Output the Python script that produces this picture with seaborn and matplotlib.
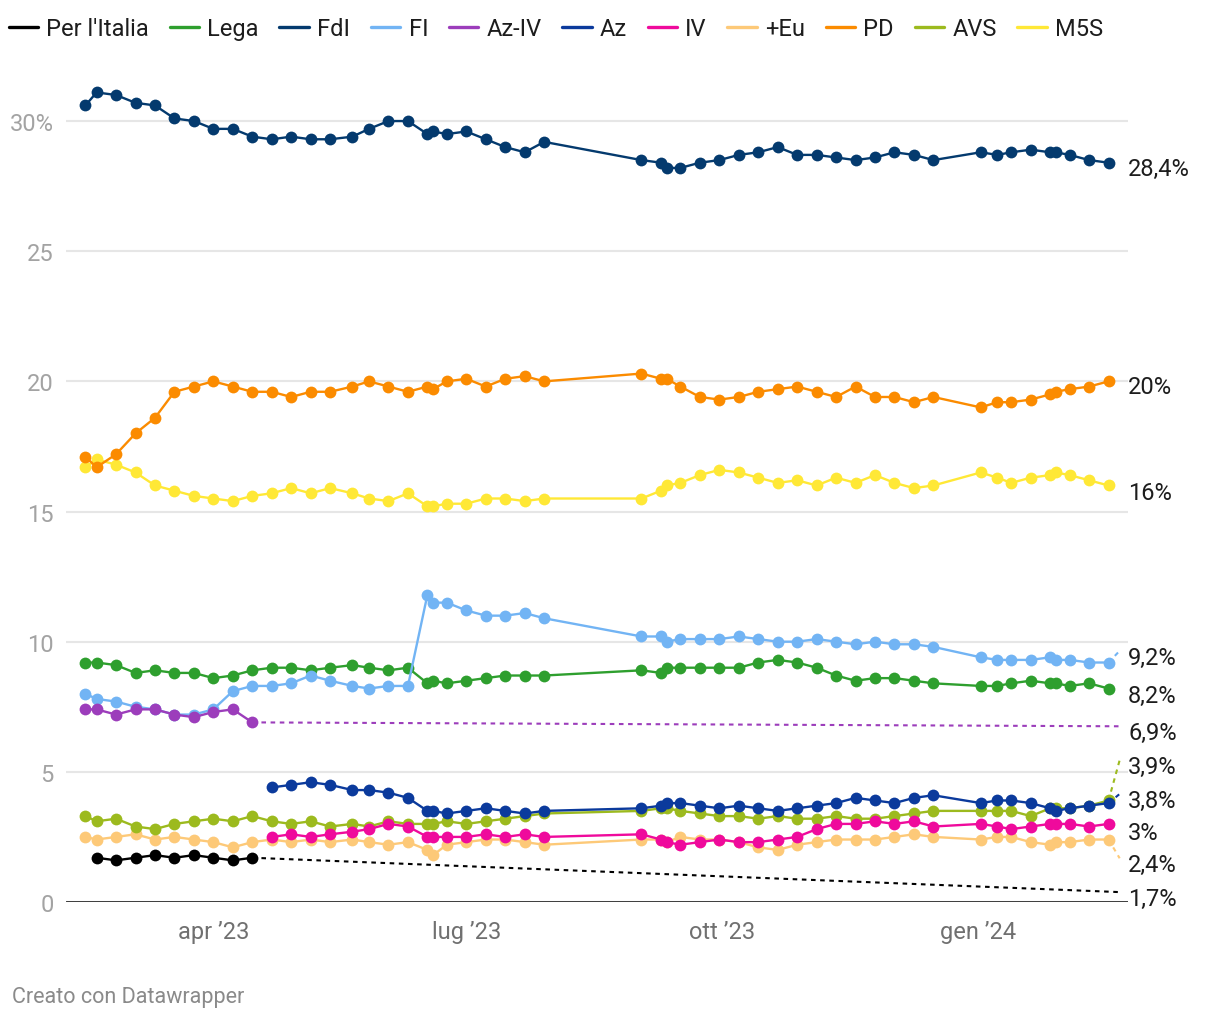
import numpy as np
import pandas as pd
import matplotlib
matplotlib.use('Agg')
import matplotlib.pyplot as plt
from matplotlib.lines import Line2D
import seaborn as sns

nan = np.nan

# --- data: weekly polls, Feb 2023 - Feb 2024 ---
poll_dates = pd.to_datetime([
    '2023-02-14', '2023-02-18', '2023-02-25', '2023-03-04', '2023-03-11', '2023-03-18', '2023-03-25',
    '2023-04-01', '2023-04-08', '2023-04-15', '2023-04-22', '2023-04-29', '2023-05-06', '2023-05-13',
    '2023-05-21', '2023-05-27', '2023-06-03', '2023-06-10', '2023-06-17', '2023-06-19', '2023-06-24',
    '2023-07-01', '2023-07-08', '2023-07-15', '2023-07-22', '2023-07-29',
    '2023-09-02', '2023-09-09', '2023-09-11', '2023-09-16', '2023-09-23', '2023-09-30', '2023-10-07',
    '2023-10-14', '2023-10-21', '2023-10-28', '2023-11-04', '2023-11-11', '2023-11-18', '2023-11-25',
    '2023-12-02', '2023-12-09', '2023-12-16', '2024-01-02', '2024-01-08', '2024-01-13', '2024-01-20',
    '2024-01-27', '2024-01-29', '2024-02-03', '2024-02-10', '2024-02-17'])

per_italia = [nan, 1.7, 1.6, 1.7, 1.8, 1.7, 1.8, 1.7, 1.6, 1.7] + [nan] * 42
lega = [9.2, 9.2, 9.1, 8.8, 8.9, 8.8, 8.8, 8.6, 8.7, 8.9, 9.0, 9.0, 8.9, 9.0, 9.1, 9.0, 8.9, 9.0,
        8.4, 8.5, 8.4, 8.5, 8.6, 8.7, 8.7, 8.7,
        8.9, 8.8, 9.0, 9.0, 9.0, 9.0, 9.0, 9.2, 9.3, 9.2, 9.0, 8.7, 8.5, 8.6, 8.6, 8.5, 8.4,
        8.3, 8.3, 8.4, 8.5, 8.4, 8.4, 8.3, 8.4, 8.2]
fdi = [30.6, 31.1, 31.0, 30.7, 30.6, 30.1, 30.0, 29.7, 29.7, 29.4, 29.3, 29.4, 29.3, 29.3, 29.4,
       29.7, 30.0, 30.0, 29.5, 29.6, 29.5, 29.6, 29.3, 29.0, 28.8, 29.2,
       28.5, 28.4, 28.2, 28.2, 28.4, 28.5, 28.7, 28.8, 29.0, 28.7, 28.7, 28.6, 28.5, 28.6, 28.8,
       28.7, 28.5, 28.8, 28.7, 28.8, 28.9, 28.8, 28.8, 28.7, 28.5, 28.4]
fi = [8.0, 7.8, 7.7, 7.5, 7.4, 7.2, 7.2, 7.4, 8.1, 8.3, 8.3, 8.4, 8.7, 8.5, 8.3, 8.2, 8.3, 8.3,
      11.8, 11.5, 11.5, 11.2, 11.0, 11.0, 11.1, 10.9,
      10.2, 10.2, 10.0, 10.1, 10.1, 10.1, 10.2, 10.1, 10.0, 10.0, 10.1, 10.0, 9.9, 10.0, 9.9,
      9.9, 9.8, 9.4, 9.3, 9.3, 9.3, 9.4, 9.3, 9.3, 9.2, 9.2]
az_iv = [7.4, 7.4, 7.2, 7.4, 7.4, 7.2, 7.1, 7.3, 7.4, 6.9] + [nan] * 42
az = [nan] * 10 + [4.4, 4.5, 4.6, 4.5, 4.3, 4.3, 4.2, 4.0, 3.5, 3.5, 3.4, 3.5, 3.6, 3.5, 3.4, 3.5,
                   3.6, 3.7, 3.8, 3.8, 3.7, 3.6, 3.7, 3.6, 3.5, 3.6, 3.7, 3.8, 4.0, 3.9, 3.8,
                   4.0, 4.1, 3.8, 3.9, 3.9, 3.8, 3.6, 3.5, 3.6, 3.7, 3.8]
iv = [nan] * 10 + [2.5, 2.6, 2.5, 2.6, 2.7, 2.8, 3.0, 2.9, 2.5, 2.5, 2.5, 2.5, 2.6, 2.5, 2.6, 2.5,
                   2.6, 2.4, 2.3, 2.2, 2.3, 2.4, 2.3, 2.3, 2.4, 2.5, 2.8, 3.0, 3.0, 3.1, 3.0,
                   3.1, 2.9, 3.0, 2.9, 2.8, 2.9, 3.0, 3.0, 3.0, 2.9, 3.0]
piu_eu = [2.5, 2.4, 2.5, 2.6, 2.4, 2.5, 2.4, 2.3, 2.1, 2.3, 2.4, 2.3, 2.4, 2.3, 2.4, 2.3, 2.2, 2.3,
          2.0, 1.8, 2.2, 2.3, 2.4, 2.4, 2.3, 2.2,
          2.4, 2.4, 2.3, 2.5, 2.4, 2.4, 2.3, 2.1, 2.0, 2.2, 2.3, 2.4, 2.4, 2.4, 2.5,
          2.6, 2.5, 2.4, 2.5, 2.5, 2.3, 2.2, 2.3, 2.3, 2.4, 2.4]
pd_ = [17.1, 16.7, 17.2, 18.0, 18.6, 19.6, 19.8, 20.0, 19.8, 19.6, 19.6, 19.4, 19.6, 19.6, 19.8,
       20.0, 19.8, 19.6, 19.8, 19.7, 20.0, 20.1, 19.8, 20.1, 20.2, 20.0,
       20.3, 20.1, 20.1, 19.8, 19.4, 19.3, 19.4, 19.6, 19.7, 19.8, 19.6, 19.4, 19.8, 19.4, 19.4,
       19.2, 19.4, 19.0, 19.2, 19.2, 19.3, 19.5, 19.6, 19.7, 19.8, 20.0]
avs = [3.3, 3.1, 3.2, 2.9, 2.8, 3.0, 3.1, 3.2, 3.1, 3.3, 3.1, 3.0, 3.1, 2.9, 3.0, 2.9, 3.1, 3.0,
       3.0, 3.0, 3.1, 3.0, 3.1, 3.2, 3.3, 3.4,
       3.5, 3.6, 3.6, 3.5, 3.4, 3.3, 3.3, 3.2, 3.3, 3.2, 3.2, 3.3, 3.2, 3.2, 3.3,
       3.4, 3.5, 3.5, 3.5, 3.5, 3.3, 3.6, 3.6, 3.6, 3.7, 3.9]
m5s = [16.7, 17.0, 16.8, 16.5, 16.0, 15.8, 15.6, 15.5, 15.4, 15.6, 15.7, 15.9, 15.7, 15.9, 15.7,
       15.5, 15.4, 15.7, 15.2, 15.2, 15.3, 15.3, 15.5, 15.5, 15.4, 15.5,
       15.5, 15.8, 16.0, 16.1, 16.4, 16.6, 16.5, 16.3, 16.1, 16.2, 16.0, 16.3, 16.1, 16.4, 16.1,
       15.9, 16.0, 16.5, 16.3, 16.1, 16.3, 16.4, 16.5, 16.4, 16.2, 16.0]

parties = ["Per l'Italia", 'Lega', 'FdI', 'FI', 'Az-IV', 'Az', 'IV', '+Eu', 'PD', 'AVS', 'M5S']
series = [per_italia, lega, fdi, fi, az_iv, az, iv, piu_eu, pd_, avs, m5s]

tick_dates = pd.to_datetime(['2023-04-01', '2023-07-01', '2023-10-01', '2024-01-01'])
tick_labels = ['apr \u201923', 'lug \u201923', 'ott \u201923', 'gen \u201924']

# --- styles ---
colors = {"Per l'Italia": '#000000', 'Lega': '#2e9f2e', 'FdI': '#043a6e', 'FI': '#72b4f4',
          'Az-IV': '#9c3dbb', 'Az': '#0b3a9c', 'IV': '#ef0a9c', '+Eu': '#fdc978',
          'PD': '#fb8b00', 'AVS': '#9cba1e', 'M5S': '#ffe836'}
draw_order = ['M5S', 'PD', 'FdI', '+Eu', 'AVS', 'Lega', 'FI', 'Az-IV', 'IV', 'Az', "Per l'Italia"]

# end-label vertical positions (layout, in axis units)
label_y = {'FdI': 28.17, 'PD': 19.82, 'M5S': 15.72, 'FI': 9.4, 'Lega': 7.93, 'Az-IV': 6.5,
           'AVS': 5.2, 'Az': 3.9, 'IV': 2.66, '+Eu': 1.43, "Per l'Italia": 0.13}
connectors = ['FI', 'Az-IV', 'AVS', 'Az', '+Eu', "Per l'Italia"]
conn_end = pd.Timestamp('2024-02-21')

sns.set_style('white')
plt.rcParams['font.family'] = ['Roboto', 'DejaVu Sans']

fig = plt.figure(figsize=(12.2, 10.2), dpi=100)
ax = fig.add_axes([66 / 1220, 117 / 1020, 1062 / 1220, 820 / 1020])

df = pd.DataFrame({'date': poll_dates})
for name, vals in zip(parties, series):
    df[name] = vals

for name in parties:
    d = df[['date', name]].dropna()
    z = 3 + draw_order.index(name)
    sns.lineplot(x=d['date'], y=d[name], ax=ax, color=colors[name], linewidth=1.7,
                 marker='o', markersize=8.5, markeredgewidth=0, zorder=z,
                 clip_on=False, legend=False)
    last_date, last_val = d['date'].iloc[-1], d[name].iloc[-1]
    if name in connectors:
        ax.plot([last_date, conn_end], [last_val, label_y[name] + 0.25], color=colors[name],
                lw=1.5, ls=(0, (2.2, 2.2)), zorder=z - 0.5, clip_on=False)
    txt = f'{last_val:g}'.replace('.', ',') + '%'
    ax.annotate(txt, xy=(1, label_y[name]), xycoords=('axes fraction', 'data'),
                xytext=(0, 0), textcoords='offset points', va='center', ha='left',
                fontsize=17, color='#1d1d1d', annotation_clip=False)

ax.set_xlim(pd.Timestamp('2023-02-07'), pd.Timestamp('2024-02-24'))
ax.set_ylim(0, 31.5)
ax.set_yticks([0, 5, 10, 15, 20, 25, 30])
ax.set_yticklabels(['0', '5', '10', '15', '20', '25', '30%'])
ax.set_xticks(tick_dates)
ax.set_xticklabels(tick_labels)
ax.tick_params(axis='y', length=0, pad=9, labelsize=17, labelcolor='#a3a3a3')
ax.tick_params(axis='x', length=0, pad=13, labelsize=17, labelcolor='#707070')
ax.yaxis.grid(True, color='#e6e6e6', lw=1.5)
ax.xaxis.grid(False)
ax.axhline(0, color='#1d1d1d', lw=1.9, zorder=2)
ax.set_xlabel('')
ax.set_ylabel('')
for s in ax.spines.values():
    s.set_visible(False)

handles = [Line2D([0], [0], color=colors[p], lw=2.4) for p in parties]
fig.legend(handles, parties, loc='center left', bbox_to_anchor=(0.007, 0.9706), ncol=11,
           frameon=False, fontsize=17, handlelength=1.25, handletextpad=0.35,
           columnspacing=0.87, borderpad=0, borderaxespad=0, labelcolor='#1d1d1d')

fig.text(0.0098, 0.0225, 'Creato con Datawrapper', fontsize=15.5, color='#8a8a8a', va='center')

fig.savefig('out.png', dpi=100)
